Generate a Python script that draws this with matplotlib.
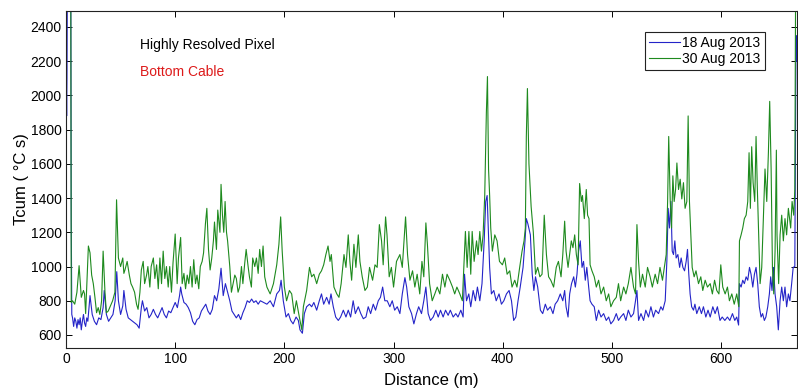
import matplotlib
matplotlib.use("Agg")
import matplotlib.pyplot as plt
import numpy as np

plt.rcParams['font.family'] = ['Liberation Sans', 'DejaVu Sans']

# ---- 18 Aug 2013 (blue) ----
dist_aug18 = [0, 0.3, 0.6, 0.9, 1.2, 4.4, 4.8, 5.3, 6, 7, 8, 9, 10, 11, 12, 13, 14, 15, 16, 17, 18, 19, 20,
    22, 24, 26, 28, 30, 32, 34, 35, 37, 39, 41, 43, 45, 46.5, 48, 50, 52, 53, 55, 57, 59, 61, 63, 65, 67,
    68, 69, 70, 72, 74, 76, 78, 80, 82, 84, 86, 88, 90, 92, 94, 96, 98, 100, 102, 104, 105, 106, 108, 110,
    112, 114, 116, 118, 120, 122, 124, 126, 128, 130, 132, 134, 136, 138, 140, 142, 144, 146, 148, 150,
    152, 154, 156, 158, 160, 162, 164, 166, 168, 170, 172, 174, 176, 178, 181, 184, 187, 190, 193, 195.5,
    197, 199, 201.5, 203.7, 205.8, 208, 210.7, 212.8, 214.3, 216.5, 218.3, 220.4, 223, 225, 227, 229.6,
    232, 234, 236, 238.7, 241, 242.7, 244.8, 247, 249.4, 251.5, 254, 256.4, 258.5, 260.7, 263, 265, 267.7,
    270, 272.3, 274.7, 276.8, 279, 281.4, 283.5, 286, 288, 290, 292, 294.2, 296.6, 298.8, 301, 303.4,
    305.8, 308, 310.4, 312, 314, 316.5, 318.6, 321, 323, 325.6, 327.7, 329.6, 331.7, 333.8, 336.3, 338.7,
    340.9, 343, 345.4, 347.6, 350, 352, 354.6, 357, 359, 361.6, 363.7, 365, 366.8, 368.9, 370.7, 372.9,
    375, 376.8, 379, 381, 383, 384.4, 385.7, 387, 388, 389.6, 391.8, 394, 396.6, 398.8, 401, 403.4, 405.8,
    408, 410, 412, 414, 416, 418.6, 420.4, 421.6, 423, 425.3, 427, 428.5, 430, 432, 434.5, 436.6, 439,
    441, 443.6, 446, 448, 450.3, 452.7, 455, 456.7, 458, 459.8, 461.3, 463, 465, 466.5, 468, 469.5, 471,
    472.6, 474, 475.6, 477, 478.7, 480, 481.7, 483.8, 485.7, 487.8, 490, 492.4, 494.8, 497, 499, 501.5,
    504, 506, 508, 510.7, 512.8, 515, 517.4, 519.8, 521.6, 522.9, 524.4, 526.6, 529, 531, 533.5, 535.7,
    538, 540, 542.7, 544.8, 546.6, 548.8, 550.3, 551.5, 552.7, 554, 555.2, 556.4, 557.6, 558.8, 560.4,
    562, 563.4, 565, 566.5, 568, 569.2, 570.4, 571.6, 573, 574.7, 576, 577.7, 580, 582, 583.8, 586, 588,
    590, 592.4, 594.5, 596.6, 599, 601, 603.4, 605.8, 608, 610.4, 612.5, 614.3, 616, 616.8, 618.3, 619.8,
    621.3, 622.9, 624.4, 626, 627.4, 629, 630.5, 632, 633.5, 635, 636.6, 638, 639.6, 641, 642.7, 644.2,
    645.4, 646.6, 648, 649.4, 650.9, 652.4, 654, 655.5, 657, 658.5, 660, 661.6, 663, 664.6, 666, 667.5,
    668.6, 669.2]
tcum_aug18 = [1850, 2100, 1880, 2100, 2600, 2600, 1280, 720, 700, 650, 700, 680, 640, 690, 660, 700, 630,
    680, 720, 670, 650, 700, 680,
    830, 720, 680, 660, 700, 690, 760, 860, 720, 680, 700, 720, 800, 970, 800, 720, 770, 860, 750, 700,
    690, 680, 670, 660, 640,
    700, 760, 800, 740, 760, 700, 720, 750, 720, 700, 730, 760, 720, 700, 740, 730, 760, 790, 760, 830,
    880, 840, 790, 780,
    760, 730, 680, 660, 690, 700, 740, 760, 780, 740, 720, 750, 830, 800, 870, 990, 830, 900, 850, 800,
    740, 720, 700, 720, 690, 730, 760, 800, 790, 810, 790, 800, 780, 800, 790, 780, 800, 765, 840, 860,
    920, 800, 705, 725, 685, 665, 705, 685, 630, 610, 725, 765, 780, 765, 790, 745,
    800, 840, 780, 820, 780, 840, 765, 705, 685, 705, 745, 705, 745, 705, 800, 725, 765,
    725, 695, 705, 765, 725, 780, 745, 800, 820, 880, 800, 800, 765, 800, 745, 765,
    725, 840, 935, 880, 765, 725, 665, 725, 765, 725, 800, 880, 725, 685, 705, 745,
    705, 745, 705, 745, 715, 745, 705, 725, 705, 745, 705, 955, 800, 840, 765, 860,
    800, 880, 800, 900, 1150, 1380, 1415, 1185, 995, 840, 860, 800, 840, 780, 800, 840, 860,
    800, 685, 705, 800, 880, 995, 1150, 1280, 1250, 1185, 955, 860, 940, 880, 745, 725, 780,
    745, 765, 725, 780, 800, 840, 800, 860, 765, 705, 840, 900, 940, 880, 955, 1090, 1150,
    995, 1030, 920, 995, 880, 800, 780, 765, 685, 745, 705, 725, 685, 705, 665, 685,
    725, 685, 705, 725, 685, 745, 705, 725, 800, 860, 685, 725, 685, 745, 705, 765,
    705, 745, 725, 765, 745, 800, 1030, 1340, 1225, 1380, 1090, 1070, 1150, 1050, 1070,
    995, 1050, 995, 975, 1030, 1100, 955, 840, 765, 745, 780, 725, 765, 725, 765, 705, 745,
    705, 765, 725, 765, 685, 705, 685, 705, 685, 725, 685, 705, 658, 900, 880, 920,
    900, 940, 920, 995, 955, 880, 955, 995, 900, 765, 705, 725, 685, 705, 765, 840,
    940, 860, 995, 840, 765, 630, 800, 880, 800, 880, 765, 840, 800, 900, 995, 1000,
    2350, 2200]

# ---- 30 Aug 2013 (green) ----
dist_aug30 = [0, 0.3, 4.4, 4.8, 6, 8, 10, 12, 14, 16, 17, 18, 20.5, 22, 23.5, 25, 26.5, 28, 29.5, 31,
    32.6, 34, 35.7, 37, 38.7, 40, 42.7, 44.8, 46.3, 47.3, 48, 50, 52, 53, 54, 56, 58, 59.5, 61, 62.8,
    64.6, 66, 67.7, 69, 70.7, 72, 73.8, 75, 76.8, 78, 80, 81.4, 83, 84.5, 86, 87.5, 89, 90.5, 92, 93.6,
    95, 96.6, 98, 100, 101.8, 103, 105, 106.4, 108, 109.5, 111, 112.5, 114, 115.5, 117, 118.6, 120,
    121.6, 123, 124.7, 126, 127.7, 129, 130.5, 132, 133.5, 135, 136, 137.8, 139, 141, 142, 143.3, 144.5,
    145.7, 147, 148, 150, 151.5, 153, 154.6, 156, 157.6, 159, 160.7, 162, 163.7, 165, 166.8, 168, 169.8,
    171, 172.9, 174.4, 176, 177.4, 179, 180.5, 182, 184, 187, 190, 193, 195, 196.6, 198, 200, 202, 204.6,
    206.7, 209, 211, 213.7, 216, 217.4, 220.4, 223, 225, 227, 229.6, 232, 234, 236, 238, 240, 241.8, 243,
    245.4, 248, 250, 252, 254.6, 256.4, 258.5, 260, 261.6, 263.7, 265.5, 267.7, 269.2, 271.3, 273.8, 276,
    278, 280.8, 283, 285, 287, 289, 290.5, 292.7, 294, 296, 298, 300, 302.7, 305.8, 308, 311, 312.8, 315,
    317.4, 319.5, 321.6, 324, 326, 327.7, 329.6, 331, 333, 335.4, 337.8, 340, 342.4, 344.8, 347, 349,
    351.5, 354, 356, 358, 360.7, 363, 365.8, 367.4, 369, 370.7, 372, 373.8, 376, 377.4, 379, 380.5, 382,
    383.5, 385, 386, 387, 388, 389, 390.5, 392.7, 394.8, 397, 399.7, 401.8, 404, 406.4, 408.5, 411, 413,
    415.5, 417.7, 419.5, 420.7, 421.6, 422.6, 424, 426, 428, 430, 432, 434, 436, 438, 440, 442, 444,
    446.6, 449, 451, 453.4, 455, 456.7, 458, 459.8, 461.3, 462.8, 464.3, 465.9, 467.4, 469, 470.4, 472,
    473, 474.7, 476.5, 477.7, 479, 480, 481.7, 483.8, 485.7, 487.8, 490, 492.4, 494.8, 497, 499, 501.5,
    504, 506, 508, 510.7, 512.8, 515, 517.4, 519.8, 521.6, 522.9, 524.4, 526, 528, 530.5, 532.6, 535,
    537, 539.6, 541.8, 544, 546.3, 548, 549.7, 551, 552, 553.4, 554.6, 555.8, 557, 558.3, 559.5, 561,
    562.5, 564, 565.5, 567, 568.6, 569.8, 571, 572.3, 573.5, 575.3, 577, 579.3, 581.4, 583.2, 585.4,
    587.5, 590, 592, 594, 596, 598, 599.7, 601.5, 603.7, 605.8, 607.6, 609.8, 612, 614.3, 616.2, 616.8,
    618.3, 619.8, 621.3, 622.9, 624.4, 625.6, 626.8, 628, 629.3, 630.8, 632, 633.2, 634.4, 635.7, 637.2,
    638.7, 640.2, 641.8, 643.3, 644.5, 645.8, 647, 648.2, 649.4, 650.6, 651.2, 652.7, 654, 655.5, 657,
    658.5, 660, 661.6, 663.7, 665, 666.5, 667.5, 668.2]
tcum_aug30 = [500, 2600, 2600, 790, 800, 780, 850, 1005, 820, 860, 840, 725, 1120, 1080, 950, 900, 820,
    730, 760, 720,
    800, 1090, 850, 730, 740, 760, 800, 850, 1390, 1200, 1050, 1000, 1050, 960, 980, 1030, 950, 900, 880,
    850,
    780, 750, 850, 980, 1030, 900, 950, 1000, 880, 1000, 1050, 930, 1010, 870, 1050, 900, 1090, 930,
    1000, 880,
    1000, 850, 1020, 1190, 900, 1050, 1170, 900, 960, 870, 950, 900, 1000, 880, 1040, 900, 950,
    870, 1000, 1030, 1080, 1250, 1340, 1100, 980, 1050, 1150, 1260, 1100, 1330, 1200, 1480, 1300, 1200,
    1380, 1200, 1150, 1000, 850, 900, 950, 930, 850, 880, 1000, 900, 1020, 1100, 1000, 940, 880,
    1050, 1000, 1050, 960, 1100, 1000, 1120, 940, 880, 840, 900, 1010, 1130, 1290, 1090, 880, 800, 860,
    840, 725, 800, 705, 630, 765, 860, 995, 940, 955, 900, 955, 975, 1010, 1070, 1120, 1030, 1070,
    880, 840, 820, 900, 1070, 995, 1185, 1030, 920, 1130, 995, 1185, 1030, 940, 860, 880,
    995, 920, 1010, 995, 1245, 1150, 1010, 1290, 1185, 940, 995, 880, 1030, 1070, 995, 1290, 1070, 920,
    975, 880, 955, 840, 1030, 940, 1255, 1130, 900, 800, 840, 880, 840, 955, 880, 955,
    920, 880, 840, 880, 840, 800, 1205, 995, 1205, 955, 1205, 1030, 1150, 1070, 1205, 1090, 1185,
    1415, 1900, 2110, 1570, 1415, 1225, 1090, 1185, 1150, 1030, 1010, 1050, 955, 975, 880, 920, 880,
    995, 1090, 1150, 1225, 1760, 2040, 1600, 1350, 1200, 955, 995, 940, 955, 1300, 1070, 940, 920,
    880, 995, 1030, 940, 1070, 1265, 1090, 995, 1070, 1150, 1110, 1185, 1070, 1010, 1485, 1380,
    1415, 1280, 1450, 1300, 1280, 1010, 975, 940, 880, 920, 840, 880, 800, 840, 765, 800,
    820, 900, 800, 880, 840, 900, 995, 880, 840, 1245, 1030, 880, 955, 880, 995, 940,
    880, 955, 900, 995, 920, 995, 1070, 1380, 1760, 1380, 1225, 1530, 1380, 1450, 1605, 1450,
    1510, 1395, 1490, 1340, 1380, 1880, 1380, 1185, 995, 940, 975, 900, 940, 860, 920,
    880, 900, 840, 920, 860, 840, 1010, 880, 840, 880, 800, 840, 780, 840, 765, 1150,
    1185, 1225, 1280, 1300, 1380, 1665, 1340, 1700, 1490, 1380, 1760, 1450, 1185, 900, 995,
    1280, 1570, 1380, 1665, 1965, 1570, 995, 840, 1090, 1680, 1185, 900, 1185, 1300, 1150,
    1280, 1185, 1340, 1225, 1380, 1300, 1450, 2600]

x_ticks = [0, 100, 200, 300, 400, 500, 600]
y_ticks = [600, 800, 1000, 1200, 1400, 1600, 1800, 2000, 2200, 2400]

fig = plt.figure(figsize=(7.98, 3.90), dpi=100)
ax = fig.add_axes([66/798, 1 - 348/390, 731/798, 337/390])

ax.plot(dist_aug18, tcum_aug18, color='#2424c8', lw=0.8, label='18 Aug 2013')
ax.plot(dist_aug30, tcum_aug30, color='#1e8a1e', lw=0.8, label='30 Aug 2013')

ax.set_xlim(0, 669.5)
ax.set_ylim(524, 2493)
ax.set_xticks(x_ticks)
ax.set_yticks(y_ticks)
ax.tick_params(direction='in', top=True, right=True, length=4.5, width=0.7,
               labelsize=10, pad=3)
for s in ax.spines.values():
    s.set_linewidth(0.8)
    s.set_color('#222222')

ax.set_xlabel('Distance (m)', fontsize=12, labelpad=5)
ax.set_ylabel('Tcum ( °C s)', fontsize=12, labelpad=1)

ax.text(67.8, 2293, 'Highly Resolved Pixel', fontsize=10, color='black', ha='left', va='center')
ax.text(67.8, 2135, 'Bottom Cable', fontsize=10, color='#dd1a1a', ha='left', va='center')

leg = ax.legend(loc='upper right', bbox_to_anchor=(0.956, 0.938), fontsize=10,
                frameon=True, fancybox=False, edgecolor='#222222', framealpha=1,
                handlelength=2.2, handletextpad=0.2, borderpad=0.3, labelspacing=0.15,
                borderaxespad=0)
leg.get_frame().set_linewidth(0.8)

fig.savefig('out.png', dpi=100, facecolor='white')
